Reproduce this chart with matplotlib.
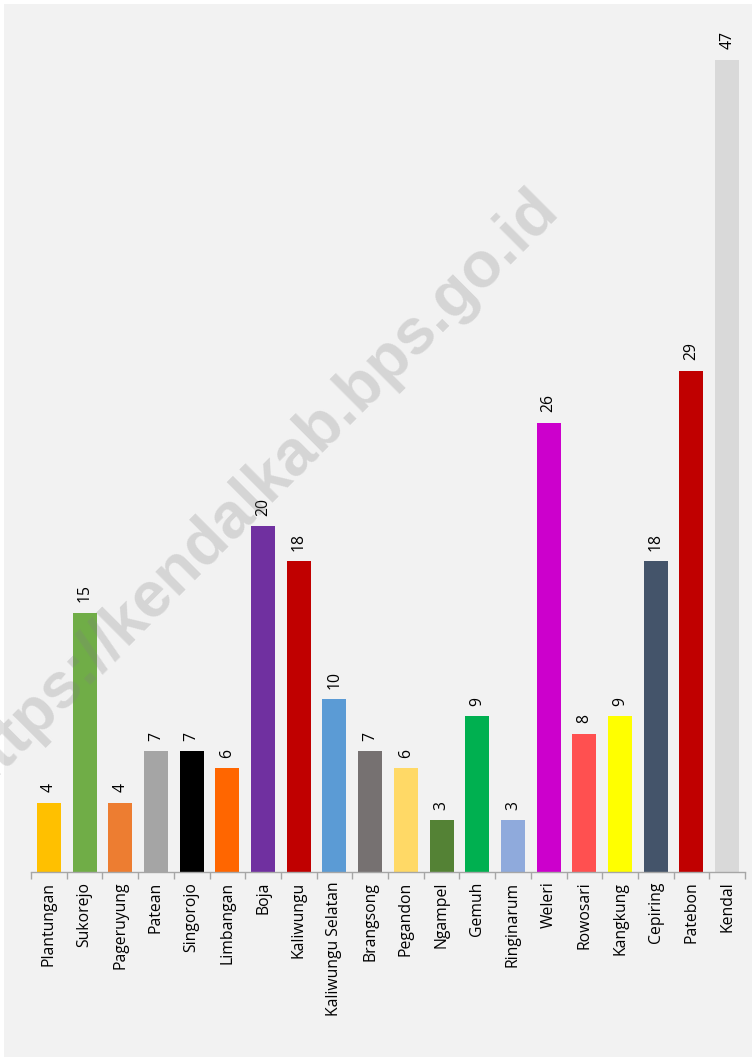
import numpy as np
import matplotlib
matplotlib.use('Agg')
import matplotlib.pyplot as plt
from matplotlib.patches import Rectangle

# data
kecamatan = ['Plantungan', 'Sukorejo', 'Pageruyung', 'Patean', 'Singorojo',
             'Limbangan', 'Boja', 'Kaliwungu', 'Kaliwungu Selatan', 'Brangsong',
             'Pegandon', 'Ngampel', 'Gemuh', 'Ringinarum', 'Weleri',
             'Rowosari', 'Kangkung', 'Cepiring', 'Patebon', 'Kendal']
jumlah = [4, 15, 4, 7, 7, 6, 20, 18, 10, 7, 6, 3, 9, 3, 26, 8, 9, 18, 29, 47]
warna = ['#FFC000', '#70AD47', '#ED7D31', '#A5A5A5', '#000000',
         '#FF6600', '#7030A0', '#C00000', '#5B9BD5', '#767171',
         '#FFD966', '#548235', '#00B050', '#8FAADC', '#CC00CC',
         '#FF5050', '#FFFF00', '#44546A', '#C00000', '#D9D9D9']

W, H = 752, 1057
fig = plt.figure(figsize=(W / 100, H / 100), dpi=100)
fig.patch.set_facecolor('white')
# grey chart area, small white margin on the top and left
fig.patches.append(Rectangle((4 / W, 0), 748 / W, 1053 / H, transform=fig.transFigure,
                             facecolor='#F2F2F2', edgecolor='none', zorder=-5))

ax = fig.add_axes([31 / W, 1 - 872 / H, 714 / W, (872 - 30) / H])
ax.set_facecolor('none')
x = np.arange(len(kecamatan))
bars = ax.bar(x, jumlah, width=0.67, color=warna, zorder=2)
ax.set_xlim(-0.5, len(kecamatan) - 0.5)
ax.set_ylim(0, 842 / 17.28)

font = 'Open Sans'
fs = 11.3
for xi, v in zip(x, jumlah):
    ax.annotate(str(v), (xi, v), xytext=(0, 7.5), textcoords='offset points',
                rotation=90, ha='center', va='bottom', fontsize=fs,
                family=font, color='black')

ax.set_xticks(x)
ax.set_xticklabels(kecamatan, rotation=90, fontsize=fs, family=font, va='top')
ax.tick_params(axis='x', length=0, pad=7)
ax.set_xticks(np.arange(len(kecamatan) + 1) - 0.5, minor=True)
ax.tick_params(axis='x', which='minor', length=5, color='#A6A6A6', width=1)
ax.set_yticks([])
for s in ['top', 'right', 'left']:
    ax.spines[s].set_visible(False)
ax.spines['bottom'].set_color('#A6A6A6')
ax.spines['bottom'].set_linewidth(1)

# watermark
fig.text(256 / W, 1 - 491 / H, 'https://kendalkab.bps.go.id', rotation=45,
         rotation_mode='anchor', ha='center', va='center', fontsize=46,
         family='Liberation Sans', weight='bold', color='#808080', alpha=0.25, zorder=10)

fig.savefig('out.png', dpi=100)
